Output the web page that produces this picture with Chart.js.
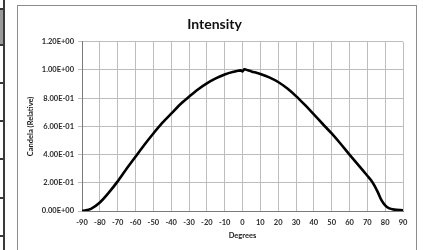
<!DOCTYPE html>
<html>
<head>
<meta charset="utf-8">
<script src="https://cdn.jsdelivr.net/npm/chart.js@4"></script>
<style>
  html, body { margin: 0; padding: 0; background: #fff; }
  body { width: 423px; height: 250px; position: relative; overflow: hidden; }
  .frame { position: absolute; left: 17px; top: 5px; width: 398px; height: 260px; border: 1px solid #8c8c8c; }
  .cells { position: absolute; left: 0; top: 0; width: 3px; height: 250px; border-right: 2px solid #3a3a3a; }
  .cell { position: absolute; left: 0; width: 4px; height: 2px; background: #3a3a3a; }
  .shade { position: absolute; left: 0; top: 8px; width: 3px; height: 36px; background: #9a9a9a; }
  #wrap { position: absolute; left: 0; top: 0; width: 423px; height: 250px; }
</style>
</head>
<body>
<div class="cells"></div>
<div class="shade"></div>
<div class="cell" style="top:8px"></div>
<div class="cell" style="top:44px"></div>
<div class="cell" style="top:82px"></div>
<div class="cell" style="top:120px"></div>
<div class="cell" style="top:158px"></div>
<div class="cell" style="top:197px"></div>
<div class="cell" style="top:235px"></div>
<div class="frame"></div>
<div id="wrap"><canvas id="myChart"></canvas></div>
<script>
// degrees and relative candela
const degrees = [-90, -85, -80, -75, -70, -65, -60, -55, -50, -45, -40, -35, -30, -25, -20, -15, -10, -5, -1, 0, 1, 3, 5, 10, 15, 20, 25, 30, 35, 40, 45, 50, 55, 60, 65, 70, 72, 74, 76, 78, 80, 82, 85, 90];
const candela = [0.0, 0.015, 0.06, 0.13, 0.21, 0.30, 0.385, 0.47, 0.55, 0.625, 0.69, 0.755, 0.81, 0.862, 0.905, 0.94, 0.968, 0.987, 0.997, 0.99, 1.005, 0.998, 0.99, 0.972, 0.948, 0.915, 0.87, 0.815, 0.752, 0.685, 0.617, 0.55, 0.477, 0.40, 0.325, 0.25, 0.22, 0.18, 0.13, 0.075, 0.04, 0.02, 0.01, 0.005];
const xTicks = [-90, -80, -70, -60, -50, -40, -30, -20, -10, 0, 10, 20, 30, 40, 50, 60, 70, 80, 90];
const yTicks = [0, 0.2, 0.4, 0.6, 0.8, 1.0, 1.2];

function sci(v) {
  if (v === 0) return '0.00E+00';
  let e = Math.floor(Math.log10(Math.abs(v)) + 1e-9);
  let m = v / Math.pow(10, e);
  let s = e < 0 ? '-' : '+';
  return m.toFixed(2) + 'E' + s + String(Math.abs(e)).padStart(2, '0');
}

const points = degrees.map((d, i) => ({ x: d, y: candela[i] }));
const tickFont = { family: 'Lato, "Open Sans", sans-serif', size: 7.5, weight: 'bold' };

new Chart(document.getElementById('myChart'), {
  type: 'line',
  data: {
    datasets: [{
      label: 'Intensity',
      data: points,
      borderColor: '#000',
      borderWidth: 2.6,
      pointRadius: 0,
      tension: 0.3,
      fill: false
    }]
  },
  options: {
    responsive: true,
    maintainAspectRatio: false,
    animation: false,
    layout: { padding: { left: 26, right: 20, top: 16, bottom: 5 } },
    plugins: {
      legend: { display: false },
      tooltip: { enabled: false },
      title: {
        display: true,
        text: 'Intensity',
        color: '#111',
        font: { family: 'Lato, "Open Sans", sans-serif', size: 14, weight: 'bold' },
        padding: { top: 0, bottom: 9 }
      }
    },
    scales: {
      x: {
        type: 'linear',
        min: -90,
        max: 90,
        afterBuildTicks: s => { s.ticks = xTicks.map(v => ({ value: v })); },
        afterFit: s => { s.height = 34; },
        ticks: { color: '#2a2a2a', font: tickFont, padding: 7, maxRotation: 0, autoSkip: false },
        grid: { color: '#bdbdbd', lineWidth: 1, tickLength: 0 },
        border: { color: '#7a7a7a', width: 1 },
        title: { display: true, text: 'Degrees', color: '#1a1a1a', font: tickFont, padding: { top: 1, bottom: 5 } }
      },
      y: {
        min: 0,
        max: 1.2,
        afterBuildTicks: s => { s.ticks = yTicks.map(v => ({ value: v })); },
        afterFit: s => { s.width = 56; },
        ticks: { color: '#2a2a2a', font: tickFont, padding: 4, callback: v => sci(v) },
        grid: { color: '#bdbdbd', lineWidth: 1, tickLength: 4 },
        border: { color: '#7a7a7a', width: 1 },
        title: { display: true, text: 'Candela (Relative)', color: '#1a1a1a', font: tickFont, padding: 0 }
      }
    }
  }
});
</script>
</body>
</html>
